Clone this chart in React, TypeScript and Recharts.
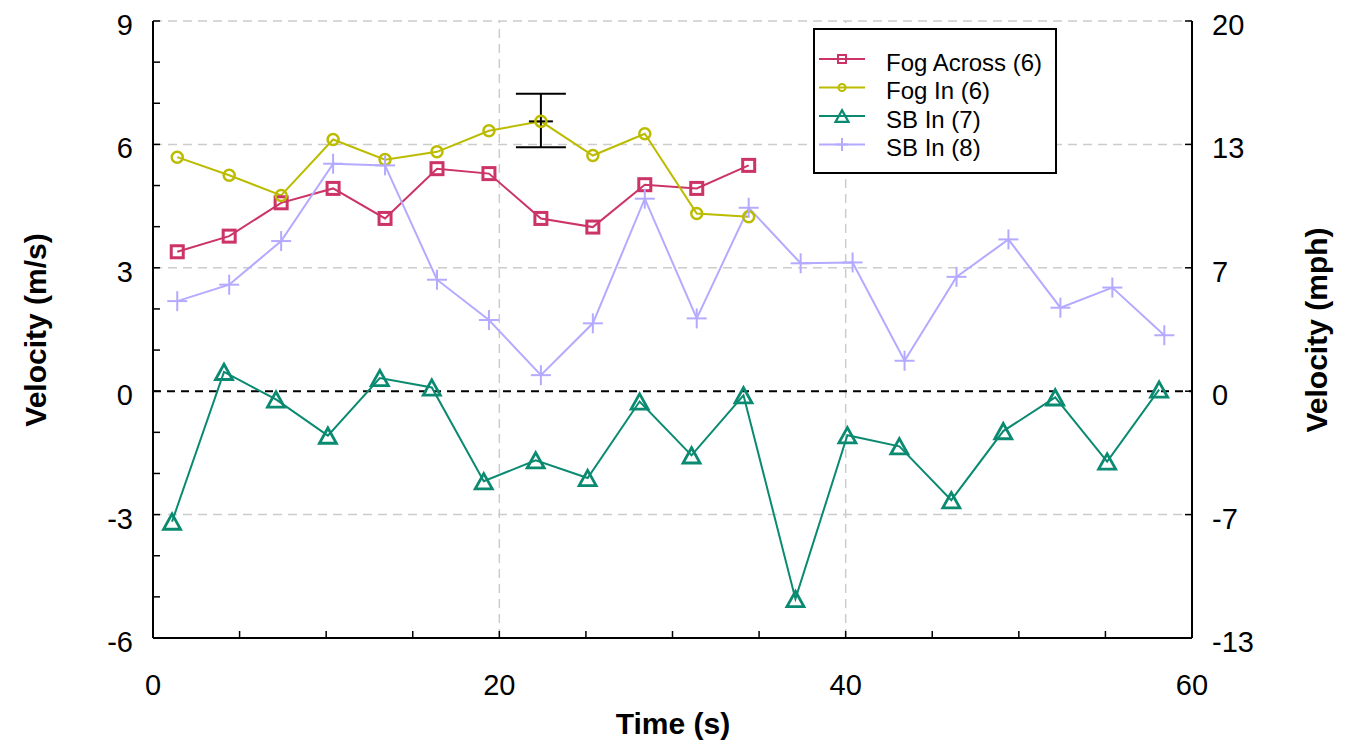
import { ComposedChart, Line, Scatter, ErrorBar, XAxis, YAxis, ReferenceLine, Legend, Label } from 'recharts';

// times (s) for each series
const timeFog = [1.4, 4.4, 7.4, 10.4, 13.4, 16.4, 19.4, 22.4, 25.4, 28.4, 31.4, 34.4];
const timeSb7 = [1.1, 4.1, 7.1, 10.1, 13.1, 16.1, 19.1, 22.1, 25.1, 28.1, 31.1, 34.1, 37.1, 40.1, 43.1, 46.1, 49.1, 52.1, 55.1, 58.1];
const timeSb8 = [1.4, 4.4, 7.4, 10.4, 13.4, 16.4, 19.4, 22.4, 25.4, 28.4, 31.4, 34.4, 37.4, 40.4, 43.4, 46.4, 49.4, 52.4, 55.4, 58.4];

// velocities (m/s)
const fogAcross = [3.39, 3.77, 4.58, 4.93, 4.2, 5.41, 5.29, 4.2, 3.99, 5.02, 4.93, 5.49];
const fogIn = [5.69, 5.25, 4.76, 6.12, 5.63, 5.82, 6.33, 6.56, 5.73, 6.26, 4.32, 4.24];
const sbIn7 = [-3.17, 0.47, -0.2, -1.08, 0.32, 0.09, -2.19, -1.68, -2.11, -0.25, -1.56, -0.1, -5.05, -1.07, -1.34, -2.65, -0.97, -0.15, -1.71, 0.04];
const sbIn8 = [2.19, 2.59, 3.65, 5.53, 5.49, 2.71, 1.73, 0.39, 1.65, 4.68, 1.77, 4.46, 3.11, 3.13, 0.74, 2.78, 3.69, 2.03, 2.52, 1.36];

// single error bar
const errTime = [22.4];
const errMean = [6.56];
const errLow = [0.63];
const errHigh = [0.67];

// axes
const xTicks = [0, 5, 10, 15, 20, 25, 30, 35, 40, 45, 50, 55, 60];
const xLabels = [0, 20, 40, 60];
const yTicks = [-6, -5, -4, -3, -2, -1, 0, 1, 2, 3, 4, 5, 6, 7, 8, 9];
const yLabels = [-6, -3, 0, 3, 6, 9];
const mphTicks = [-6, -3, 0, 3, 6, 9];
const mphLabels = ['-13', '-7', '0', '7', '13', '20'];
const gridY = [-3, 3, 6, 9];
const gridX = [20, 40];

const FONT = '"Liberation Sans", Arial, sans-serif';
const C_ACROSS = '#CC3366';
const C_FOGIN = '#BBBB00';
const C_SB7 = '#0A8A70';
const C_SB8 = '#B4AAFF';

const toPoints = (ts: number[], vs: number[]) => ts.map((t, i) => ({ t, v: vs[i] }));
const errData = errTime.map((t, i) => ({ t, v: errMean[i], err: [errLow[i], errHigh[i]] }));

const square = (color: string, s: number, w: number) => (p: any) =>
  <rect key={`s${p.index}`} x={p.cx - s / 2} y={p.cy - s / 2} width={s} height={s} fill="none" stroke={color} strokeWidth={w} />;
const circle = (color: string, r: number, w: number) => (p: any) =>
  <circle key={`c${p.index}`} cx={p.cx} cy={p.cy} r={r} fill="none" stroke={color} strokeWidth={w} />;
const triangle = (color: string, s: number, w: number) => (p: any) => {
  const h = s * 0.9;
  return <polygon key={`t${p.index}`} points={`${p.cx},${p.cy - h / 2} ${p.cx + s / 2},${p.cy + h / 2} ${p.cx - s / 2},${p.cy + h / 2}`} fill="none" stroke={color} strokeWidth={w} strokeLinejoin="miter" />;
};
const plus = (color: string, s: number, w: number) => (p: any) =>
  <g key={`p${p.index}`}>
    <line x1={p.cx - s / 2} x2={p.cx + s / 2} y1={p.cy} y2={p.cy} stroke={color} strokeWidth={w} />
    <line x1={p.cx} x2={p.cx} y1={p.cy - s / 2} y2={p.cy + s / 2} stroke={color} strokeWidth={w} />
  </g>;

const series = [
  { name: 'Fog Across (6)', color: C_ACROSS, data: toPoints(timeFog, fogAcross), dot: square(C_ACROSS, 12, 3), mark: square(C_ACROSS, 8, 2) },
  { name: 'Fog In (6)', color: C_FOGIN, data: toPoints(timeFog, fogIn), dot: circle(C_FOGIN, 5.5, 2.5), mark: circle(C_FOGIN, 3.5, 2) },
  { name: 'SB In (7)', color: C_SB7, data: toPoints(timeSb7, sbIn7), dot: triangle(C_SB7, 17, 2.8), mark: triangle(C_SB7, 13, 2.2) },
  { name: 'SB In (8)', color: C_SB8, data: toPoints(timeSb8, sbIn8), dot: plus(C_SB8, 20, 2), mark: plus(C_SB8, 13, 2) },
];

const XTick = ({ x, y, payload }: any) => (
  <g>
    <line x1={x} x2={x} y1={y} y2={y - 7} stroke="#000" strokeWidth={1.5} />
    {xLabels.includes(payload.value) && (
      <text x={x} y={y + 47} textAnchor="middle" dominantBaseline="central" fontSize={29} fontFamily={FONT} fill="#000">{payload.value}</text>
    )}
  </g>
);

const LeftTick = ({ x, y, payload }: any) => (
  <g>
    <line x1={x} x2={x + 7} y1={y} y2={y} stroke="#000" strokeWidth={1.5} />
    {yLabels.includes(payload.value) && (
      <text x={x - 20} y={y + 4} textAnchor="end" dominantBaseline="central" fontSize={29} fontFamily={FONT} fill="#000">{payload.value}</text>
    )}
  </g>
);

const RightTick = ({ x, y, payload }: any) => (
  <g>
    <line x1={x} x2={x - 7} y1={y} y2={y} stroke="#000" strokeWidth={1.5} />
    <text x={x + 20} y={y + 4} textAnchor="start" dominantBaseline="central" fontSize={29} fontFamily={FONT} fill="#000">
      {mphLabels[mphTicks.indexOf(payload.value)]}
    </text>
  </g>
);

const LegendBox = () => (
  <svg width={244} height={146} style={{ display: 'block' }}>
    <rect x={1} y={1} width={242} height={144} fill="#fff" stroke="#000" strokeWidth={2} />
    {series.map((s, i) => {
      const y = 31 + i * 28.5;
      return (
        <g key={s.name}>
          <line x1={6} x2={52} y1={y} y2={y} stroke={s.color} strokeWidth={2} />
          {s.mark({ cx: 29, cy: y, index: i })}
          <text x={73} y={y + 3} dominantBaseline="central" fontSize={24} fontFamily={FONT} fill="#000">{s.name}</text>
        </g>
      );
    })}
  </svg>
);

export default function App() {
  return (
    <div style={{ position: 'absolute', left: 0, top: 0, width: 1348, height: 741, background: '#fff', fontFamily: FONT }}>
      <ComposedChart width={1348} height={741} margin={{ top: 21, right: 56, bottom: 43, left: 53 }}>
        <XAxis
          type="number"
          dataKey="t"
          domain={[0, 60]}
          ticks={xTicks}
          interval={0}
          allowDataOverflow
          height={60}
          tickSize={0}
          tickMargin={0}
          tickLine={false}
          tick={XTick}
          axisLine={{ stroke: '#000', strokeWidth: 2 }}
        >
          <Label
            content={() => (
              <text x={673} y={723} textAnchor="middle" dominantBaseline="central" fontSize={30} fontWeight="bold" fontFamily={FONT} fill="#000">Time (s)</text>
            )}
          />
        </XAxis>
        <YAxis
          type="number"
          domain={[-6, 9]}
          ticks={yTicks}
          interval={0}
          allowDataOverflow
          width={100}
          tickSize={0}
          tickMargin={0}
          tickLine={false}
          tick={LeftTick}
          axisLine={{ stroke: '#000', strokeWidth: 2 }}
        >
          <Label
            content={() => (
              <text transform="translate(35,330) rotate(-90)" textAnchor="middle" dominantBaseline="central" fontSize={30} fontWeight="bold" fontFamily={FONT} fill="#000">Velocity (m/s)</text>
            )}
          />
        </YAxis>
        <YAxis
          yAxisId="r"
          orientation="right"
          type="number"
          domain={[-6, 9]}
          ticks={mphTicks}
          interval={0}
          allowDataOverflow
          width={100}
          tickSize={0}
          tickMargin={0}
          tickLine={false}
          tick={RightTick}
          axisLine={{ stroke: '#000', strokeWidth: 2 }}
        >
          <Label
            content={() => (
              <text transform="translate(1316,330) rotate(-90)" textAnchor="middle" dominantBaseline="central" fontSize={30} fontWeight="bold" fontFamily={FONT} fill="#000">Velocity (mph)</text>
            )}
          />
        </YAxis>

        {gridY.map((v) => (
          <ReferenceLine key={`gy${v}`} y={v} stroke="#CCCCCC" strokeWidth={1.5} strokeDasharray="9 6" />
        ))}
        {gridX.map((v) => (
          <ReferenceLine key={`gx${v}`} x={v} stroke="#CCCCCC" strokeWidth={1.5} strokeDasharray="9 6" />
        ))}
        <ReferenceLine y={0} stroke="#000" strokeWidth={2} strokeDasharray="8 6" />

        <Legend layout="vertical" align="center" verticalAlign="middle" wrapperStyle={{ left: 813, top: 28, width: 244, height: 146 }} content={LegendBox} />

        {series.map((s) => (
          <Line
            key={s.name}
            data={s.data}
            dataKey="v"
            name={s.name}
            stroke={s.color}
            strokeWidth={2}
            dot={s.dot}
            activeDot={false}
            isAnimationActive={false}
          />
        ))}

        <Scatter
          data={errData}
          dataKey="v"
          isAnimationActive={false}
          shape={(p: any) => <line x1={p.cx - 12} x2={p.cx + 12} y1={p.cy} y2={p.cy} stroke="#000" strokeWidth={2} />}
        >
          <ErrorBar dataKey="err" direction="y" width={25} stroke="#000" strokeWidth={2} />
        </Scatter>
      </ComposedChart>
    </div>
  );
}
